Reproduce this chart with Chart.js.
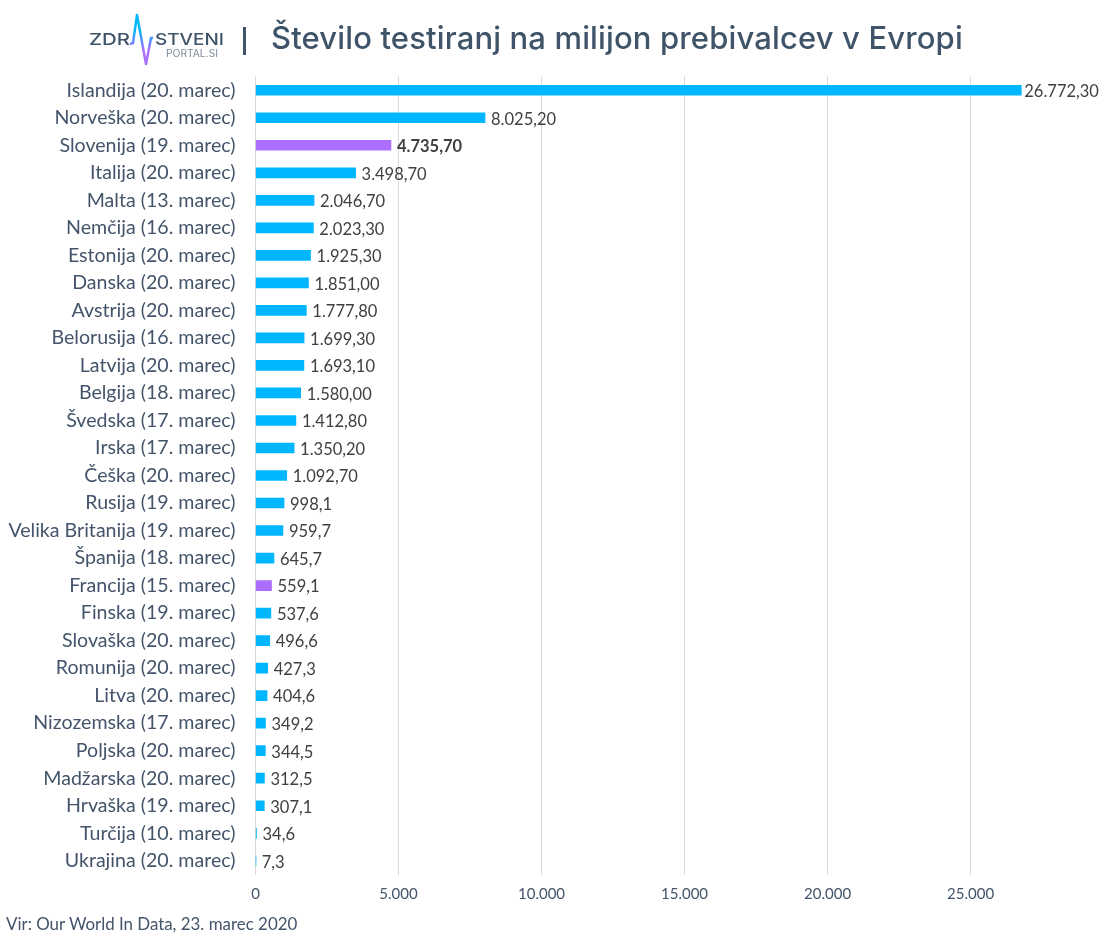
<!DOCTYPE html>
<html lang="sl">
<head>
<meta charset="utf-8">
<title>Število testiranj na milijon prebivalcev v Evropi</title>
<script src="https://cdn.jsdelivr.net/npm/chart.js@4"></script>
<style>
    html, body { margin: 0; padding: 0; background: #fff; }
    body { width: 1110px; height: 945px; position: relative; overflow: hidden; font-family: Lato, sans-serif; color: #44546a; }
    #chart-box { position: absolute; left: 0; top: 0; width: 1110px; height: 945px; }
    #logo { position: absolute; left: 80px; top: 8px; width: 160px; height: 62px; }
    #title { position: absolute; left: 271px; top: 16px; font-family: Inter, sans-serif; font-size: 31px; font-weight: 500; line-height: 44px; letter-spacing: 0.14px; white-space: nowrap; color: #3f5468; }
    #title-sep { position: absolute; left: 243px; top: 27px; width: 3px; height: 28px; background: #3f5468; }
    #source { position: absolute; left: 6px; top: 914px; font-size: 16.9px; line-height: 20px; color: #44546a; }
</style>
</head>
<body>
<div id="chart-box"><canvas id="testChart" width="1110" height="945"></canvas></div>

<svg id="logo" viewBox="80 8 160 62">
    <defs>
        <linearGradient id="pulse" x1="0" y1="14" x2="0" y2="66" gradientUnits="userSpaceOnUse">
            <stop offset="0.3" stop-color="#00b6ff"/>
            <stop offset="0.7" stop-color="#ab6eff"/>
        </linearGradient>
    </defs>
    <text x="89" y="45" textLength="41" lengthAdjust="spacingAndGlyphs" font-family="Inter, sans-serif" font-size="16.5" font-weight="500" fill="#3f5468">ZDR</text>
    <text x="155" y="45" textLength="69" lengthAdjust="spacingAndGlyphs" font-family="Inter, sans-serif" font-size="16.5" font-weight="500" fill="#3f5468">STVENI</text>
    <text x="166" y="57" textLength="52" lengthAdjust="spacingAndGlyphs" font-family="Inter, sans-serif" font-size="10" fill="#7d8c9b">PORTAL.SI</text>
    <polyline points="130,44 133,43 137,15 146,64 151,38 153,38" fill="none" stroke="url(#pulse)" stroke-width="2.5" stroke-linejoin="round"/>
</svg>
<div id="title-sep"></div>
<div id="title">Število testiranj na milijon prebivalcev v Evropi</div>
<div id="source">Vir: Our World In Data, 23. marec 2020</div>

<script>
const countries = ['Islandija (20. marec)', 'Norveška (20. marec)', 'Slovenija (19. marec)', 'Italija (20. marec)', 'Malta (13. marec)', 'Nemčija (16. marec)', 'Estonija (20. marec)', 'Danska (20. marec)', 'Avstrija (20. marec)', 'Belorusija (16. marec)', 'Latvija (20. marec)', 'Belgija (18. marec)', 'Švedska (17. marec)', 'Irska (17. marec)', 'Češka (20. marec)', 'Rusija (19. marec)', 'Velika Britanija (19. marec)', 'Španija (18. marec)', 'Francija (15. marec)', 'Finska (19. marec)', 'Slovaška (20. marec)', 'Romunija (20. marec)', 'Litva (20. marec)', 'Nizozemska (17. marec)', 'Poljska (20. marec)', 'Madžarska (20. marec)', 'Hrvaška (19. marec)', 'Turčija (10. marec)', 'Ukrajina (20. marec)'];
const testsPerMillion = [26772.3, 8025.2, 4735.7, 3498.7, 2046.7, 2023.3, 1925.3, 1851.0, 1777.8, 1699.3, 1693.1, 1580.0, 1412.8, 1350.2, 1092.7, 998.1, 959.7, 645.7, 559.1, 537.6, 496.6, 427.3, 404.6, 349.2, 344.5, 312.5, 307.1, 34.6, 7.3];
const valueLabels = ['26.772,30', '8.025,20', '4.735,70', '3.498,70', '2.046,70', '2.023,30', '1.925,30', '1.851,00', '1.777,80', '1.699,30', '1.693,10', '1.580,00', '1.412,80', '1.350,20', '1.092,70', '998,1', '959,7', '645,7', '559,1', '537,6', '496,6', '427,3', '404,6', '349,2', '344,5', '312,5', '307,1', '34,6', '7,3'];
const xTickValues = [0, 5000, 10000, 15000, 20000, 25000];
const xTickLabels = ['0', '5.000', '10.000', '15.000', '20.000', '25.000'];
const highlighted = ['Slovenija (19. marec)', 'Francija (15. marec)'];
const boldLabel = 'Slovenija (19. marec)';

const BLUE = '#00b6ff';
const PURPLE = '#ab6eff';
const TEXT = '#44546a';

// no datalabels plugin in the sandbox, so the value labels are drawn here
const valueLabelPlugin = {
    id: 'valueLabels',
    afterDatasetsDraw(chart) {
        const ctx = chart.ctx;
        const bars = chart.getDatasetMeta(0).data;
        ctx.save();
        ctx.textBaseline = 'middle';
        ctx.textAlign = 'left';
        bars.forEach((bar, i) => {
            const isBold = countries[i] === boldLabel;
            ctx.font = (isBold ? 'bold ' : '') + '16.5px Lato, sans-serif';
            ctx.fillStyle = '#404040';
            // the longest bar sits closer to its label in the original
            const gap = i === 0 ? 3 : 6;
            ctx.fillText(valueLabels[i], bar.x + gap, bar.y + 1.5);
        });
        ctx.restore();
    }
};

const ctx = document.getElementById('testChart').getContext('2d');
new Chart(ctx, {
    type: 'bar',
    data: {
        labels: countries,
        datasets: [{
            data: testsPerMillion,
            backgroundColor: countries.map(c => highlighted.includes(c) ? PURPLE : BLUE),
            barThickness: 10,
            borderWidth: 0
        }]
    },
    options: {
        indexAxis: 'y',
        responsive: false,
        animation: false,
        devicePixelRatio: 1,
        layout: { padding: { top: 76.5, right: 25, bottom: 0, left: 0 } },
        plugins: {
            legend: { display: false },
            tooltip: { enabled: false }
        },
        scales: {
            x: {
                min: 0,
                max: 29000,
                // axis runs past the last labelled tick, so set the ticks by hand
                afterBuildTicks: (scale) => {
                    scale.ticks = xTickValues.map(v => ({ value: v }));
                },
                afterFit: (scale) => { scale.height = 70.5; },
                grid: { color: '#d9d9d9', drawTicks: false, lineWidth: 1 },
                border: { display: false },
                ticks: {
                    autoSkip: false,
                    padding: 11,
                    maxRotation: 0,
                    color: TEXT,
                    font: { family: 'Lato, sans-serif', size: 15 },
                    callback: (v) => xTickLabels[xTickValues.indexOf(v)]
                }
            },
            y: {
                afterFit: (scale) => { scale.width = 255.5; },
                grid: { display: false },
                border: { display: false },
                ticks: {
                    autoSkip: false,
                    padding: 12,
                    color: TEXT,
                    font: { family: 'Lato, sans-serif', size: 19.6 }
                }
            }
        }
    },
    plugins: [valueLabelPlugin]
});
</script>
</body>
</html>
